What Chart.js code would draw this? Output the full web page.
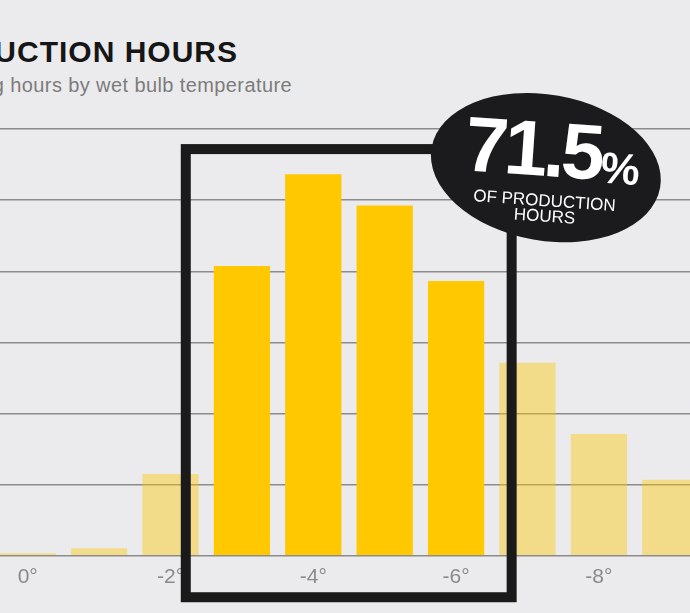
<!DOCTYPE html>
<html>
<head>
<meta charset="utf-8">
<script src="https://cdn.jsdelivr.net/npm/chart.js@4.4.1/dist/chart.umd.min.js"></script>
<style>
    html, body {
        margin: 0;
        padding: 0;
        width: 690px;
        height: 613px;
        overflow: hidden;
        background: #ebebed;
        font-family: "Liberation Sans", Arial, sans-serif;
    }
    .title {
        position: absolute;
        right: 452px;
        top: 37px;
        font-size: 30px;
        line-height: 1;
        font-weight: bold;
        letter-spacing: 1px;
        color: #161616;
        white-space: nowrap;
    }
    .subtitle {
        position: absolute;
        right: 398px;
        top: 75px;
        font-size: 20px;
        line-height: 1;
        letter-spacing: 0.4px;
        color: #7c7c7c;
        white-space: nowrap;
    }
    .wrap {
        position: absolute;
        left: -8.5px;
        top: 0;
        width: 714px;
        height: 613px;
    }
</style>
</head>
<body>

<div class="title">PRODUCTION HOURS</div>
<div class="subtitle">Operating hours by wet bulb temperature</div>

<div class="wrap">
    <canvas id="hoursChart"></canvas>
</div>

<script>
// wet bulb temperature bins and share of production hours
const categories = ["0°", "-1°", "-2°", "-3°", "-4°", "-5°", "-6°", "-7°", "-8°", "-9°"];
const hours = [0.15, 0.43, 4.6, 16.3, 21.45, 19.7, 15.45, 10.86, 6.85, 4.27];
const tickLabels = ["0°", "", "-2°", "", "-4°", "", "-6°", "", "-8°", ""];
const highlighted = [false, false, false, true, true, true, true, false, false, false];
const yMax = 24;
const yStep = 4;

const badgeValue = "71.5";
const badgeLines = ["OF PRODUCTION", "HOURS"];

const BRIGHT = "#ffc800";
const PALE = "rgba(255, 200, 0, 0.42)";

const deg = Math.PI / 180;

const overlay = {
    id: "overlay",
    afterDatasetsDraw(chart) {
        const ctx = chart.ctx;
        const x = chart.scales.x;
        const y = chart.scales.y;
        const step = x.getPixelForValue(1) - x.getPixelForValue(0);

        // box round the highlighted bins
        const left = x.getPixelForValue(2) + 0.214 * step;
        const right = x.getPixelForValue(6) + 0.778 * step;
        const top = y.getPixelForValue(22.87);
        const bottom = y.getPixelForValue(-2.33);

        ctx.save();
        ctx.strokeStyle = "#1a1a1a";
        ctx.lineWidth = 10;
        ctx.lineJoin = "miter";
        ctx.strokeRect(left, top, right - left, bottom - top);

        // badge
        const cx = x.getPixelForValue(7) + 0.257 * step;
        const cy = y.getPixelForValue(21.83);
        ctx.translate(cx, cy);
        ctx.rotate(10 * deg);
        ctx.beginPath();
        ctx.ellipse(0, 0, 116, 73, 0, 0, Math.PI * 2);
        ctx.fillStyle = "#1b1b1d";
        ctx.fill();

        ctx.rotate(-6 * deg);
        ctx.fillStyle = "#ffffff";
        ctx.textBaseline = "alphabetic";
        ctx.textAlign = "left";
        ctx.font = 'bold 78px "Liberation Sans"';
        ctx.letterSpacing = "-4px";
        ctx.fillText(badgeValue, -82, 8.5);
        const w = ctx.measureText(badgeValue).width;
        ctx.font = 'bold 44px "Liberation Sans"';
        ctx.letterSpacing = "0px";
        ctx.fillText("%", -82 + w + 1, 11);

        ctx.textAlign = "center";
        ctx.font = '17px "Liberation Sans"';
        ctx.fillText(badgeLines[0], 1, 38.5);
        ctx.fillText(badgeLines[1], 2, 54);
        ctx.restore();
    }
};

new Chart(document.getElementById("hoursChart"), {

    type: "bar",

    data: {

        labels: categories,

        datasets: [{

            data: hours,

            backgroundColor: highlighted.map(h => h ? BRIGHT : PALE),

            borderWidth: 0,

            barPercentage: 0.788,

            categoryPercentage: 1

        }]

    },

    options: {

        responsive: true,

        maintainAspectRatio: false,

        animation: false,

        layout: {
            padding: { top: 129, bottom: 14, left: 0, right: 0 }
        },

        plugins: {
            legend: { display: false },
            tooltip: { enabled: false }
        },

        scales: {

            x: {
                grid: { display: false, drawTicks: false, tickLength: 0 },
                border: { display: false },
                ticks: {
                    autoSkip: false,
                    maxRotation: 0,
                    padding: 9,
                    color: "#8a8a8a",
                    font: { family: "Liberation Sans", size: 21 },
                    callback: (value, index) => tickLabels[index]
                }
            },

            y: {
                min: 0,
                max: yMax,
                grid: {
                    color: "#8c8c8c",
                    lineWidth: 1.5,
                    drawTicks: false
                },
                border: { display: false },
                ticks: { display: false, stepSize: yStep }
            }

        }

    },

    plugins: [overlay]

});
</script>
</body>
</html>
